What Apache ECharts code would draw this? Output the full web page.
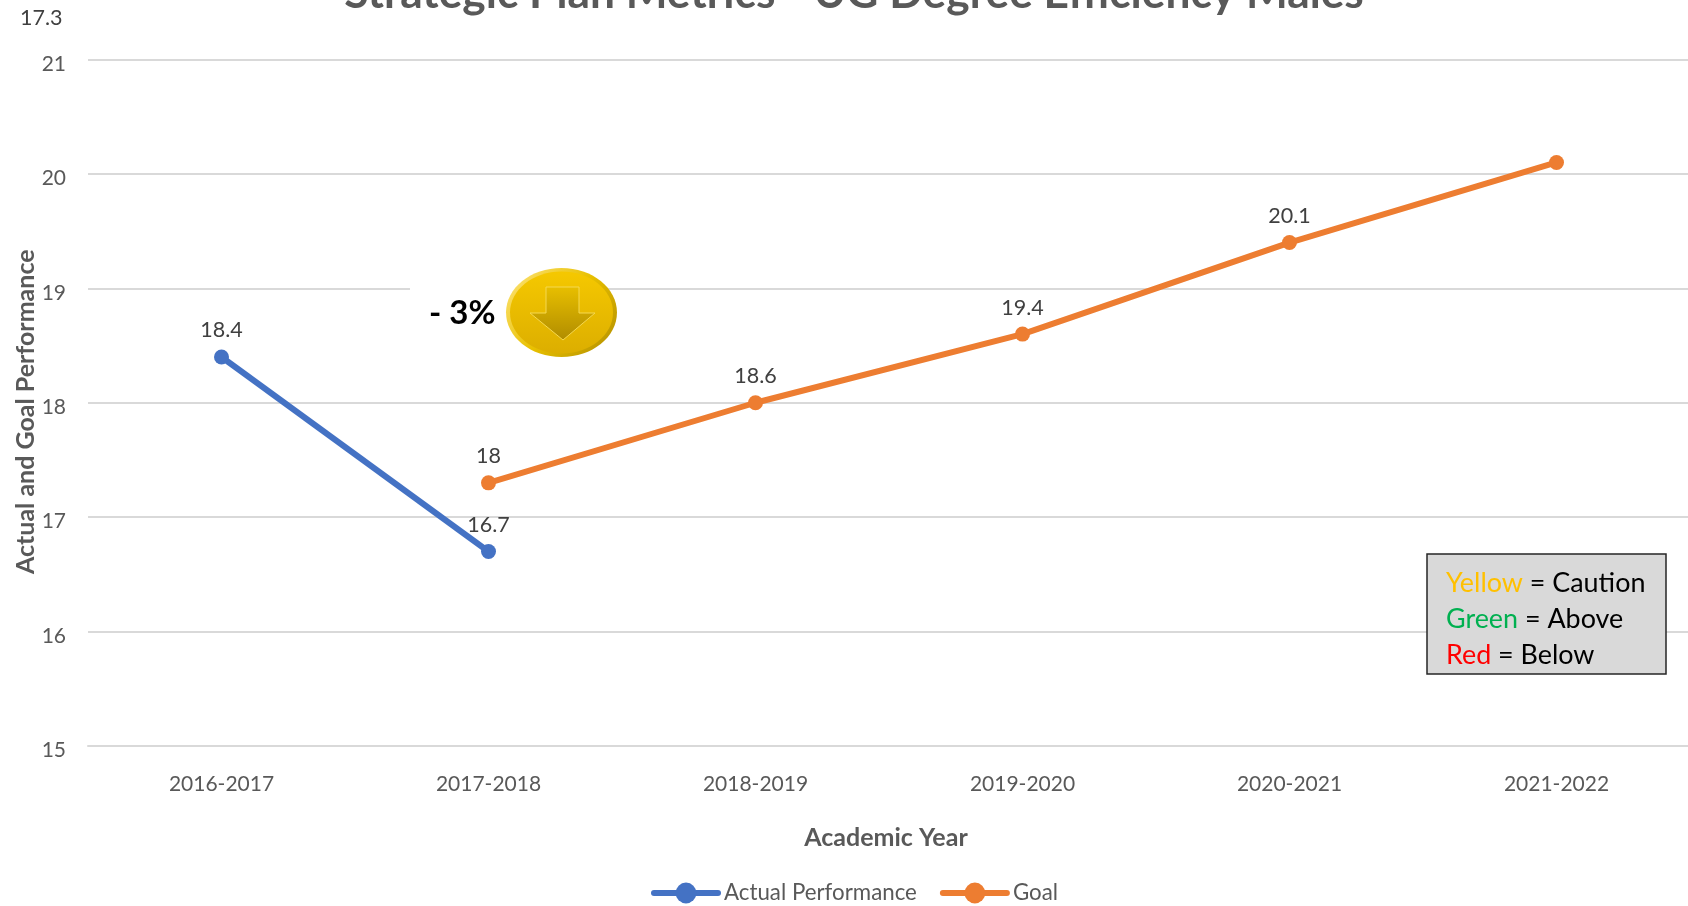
<!DOCTYPE html>
<html><head><meta charset="utf-8">
<style>html,body{margin:0;padding:0;background:#fff;overflow:hidden}#c{width:1688px;height:906px}</style>
<script src="https://cdn.jsdelivr.net/npm/echarts@6/dist/echarts.min.js"></script>
</head><body><div id="c"></div>
<script>
const categories = ['2016-2017','2017-2018','2018-2019','2019-2020','2020-2021','2021-2022'];
const actual = [18.4, 16.7, null, null, null, null];
const goal = [null, 17.3, 18, 18.6, 19.4, 20.1];
const goalLabels = ['', '18', '18.6', '19.4', '20.1', ''];
const strayLabel = '17.3';
const titleText = 'Strategic Plan Metrics - UG Degree Efficiency Males';
const FONT = 'Lato';
const GREY = '#595959';
const chart = echarts.init(document.getElementById('c'), null, {renderer:'canvas'});
chart.setOption({
  animation:false,
  backgroundColor:'#fff',
  textStyle:{fontFamily:FONT},
  title:{text:titleText,left:854,textAlign:'center',top:-28,padding:0,
    textStyle:{fontFamily:FONT,fontWeight:'bold',fontSize:44.3,color:GREY}},
  grid:{left:88,right:-2,top:59.5,bottom:160,containLabel:false,outerBoundsMode:'none'},
  xAxis:{type:'category',data:categories,boundaryGap:true,
    axisLine:{show:true,lineStyle:{color:'#d9d9d9',width:2}},axisTick:{show:false},
    axisLabel:{fontFamily:FONT,fontSize:21,color:GREY,margin:28},
    name:'Academic Year',nameLocation:'middle',nameGap:79,
    nameTextStyle:{fontFamily:FONT,fontWeight:'bold',fontSize:25,color:GREY,padding:[0,6,0,0]}},
  yAxis:{type:'value',min:15,max:21,interval:1,
    axisLine:{show:false},axisTick:{show:false},
    splitLine:{lineStyle:{color:'#d9d9d9',width:2}},
    axisLabel:{fontFamily:FONT,fontSize:21,color:GREY,margin:22,verticalAlign:'top',padding:[-6,0,0,0]},
    name:'Actual and Goal Performance',nameLocation:'middle',nameGap:50,nameMoveOverlap:false,
    nameTextStyle:{fontFamily:FONT,fontWeight:'bold',fontSize:25,color:GREY,padding:[0,18,0,0]}},
  legend:{show:true,left:651,top:882,padding:0,itemWidth:64,itemHeight:26,itemGap:23,
    lineStyle:{width:6,cap:'round'},
    textStyle:{fontFamily:FONT,fontSize:22.3,color:GREY,padding:[0,0,0,1]},
    data:['Actual Performance','Goal']},
  series:[
    {name:'Actual Performance',type:'line',data:actual,connectNulls:false,
      symbol:'circle',symbolSize:15,
      lineStyle:{color:'#4472c4',width:6},itemStyle:{color:'#4472c4'},
      label:{show:true,position:'top',distance:8,fontFamily:FONT,fontSize:21.5,color:'#404040'}},
    {name:'Goal',type:'line',data:goal,
      symbol:'circle',symbolSize:15,
      lineStyle:{color:'#ed7d31',width:6},itemStyle:{color:'#ed7d31'},
      label:{show:true,position:'top',distance:8,fontFamily:FONT,fontSize:21.5,color:'#404040',
        formatter:p=>goalLabels[p.dataIndex]}}
  ],
  graphic:{elements:[
    {type:'text',z:20,x:20,y:7,style:{text:'{a|'+strayLabel+'}',rich:{a:{fontFamily:FONT,fontSize:21.5,fill:'#404040'}}}},
    {type:'rect',z:10,shape:{x:410,y:270,width:120,height:90},style:{fill:'#fff'}},
    {type:'text',z:20,x:429,y:297,style:{text:'{a|- 3%}',rich:{a:{fontFamily:FONT,fontWeight:'bold',fontSize:33,fill:'#000'}}}},
    {type:'ellipse',z:21,shape:{cx:561.5,cy:312.5,rx:55.5,ry:44.5},
      style:{fill:new echarts.graphic.LinearGradient(0,0,1,1,[{offset:0,color:'#ffe680'},{offset:0.5,color:'#e8c000'},{offset:1,color:'#b08c00'}])}},
    {type:'ellipse',z:22,shape:{cx:561.5,cy:312.5,rx:51.5,ry:41},
      style:{fill:new echarts.graphic.LinearGradient(0,0,0,1,[{offset:0,color:'#f5c800'},{offset:1,color:'#dcae00'}])}},
    {type:'polygon',z:23,shape:{points:[[546,287],[579,287],[579,313],[595,313],[563,340],[530,313],[546,313]]},
      style:{fill:new echarts.graphic.LinearGradient(0,0,0,1,[{offset:0,color:'#e8bf00'},{offset:1,color:'#b08c00'}]),stroke:'#f5d850',lineWidth:1}},
    {type:'group',z:30,children:[
      {type:'rect',z:30,shape:{x:1427,y:554,width:239,height:120},style:{fill:'#d9d9d9',stroke:'#262626',lineWidth:1.5}},
      {type:'text',z:31,x:1446,y:565,style:{
        text:'{y|Yellow}{k| = Caution}\n{g|Green}{k| = Above}\n{r|Red}{k| = Below}',
        rich:{
          y:{fill:'#ffc000',fontSize:26.9,fontFamily:FONT,lineHeight:36},
          g:{fill:'#00b050',fontSize:26.9,fontFamily:FONT,lineHeight:36},
          r:{fill:'#ff0000',fontSize:26.9,fontFamily:FONT,lineHeight:36},
          k:{fill:'#000',fontSize:26.9,fontFamily:FONT,lineHeight:36}
        }}}
    ]}
  ]}
});
</script></body></html>
